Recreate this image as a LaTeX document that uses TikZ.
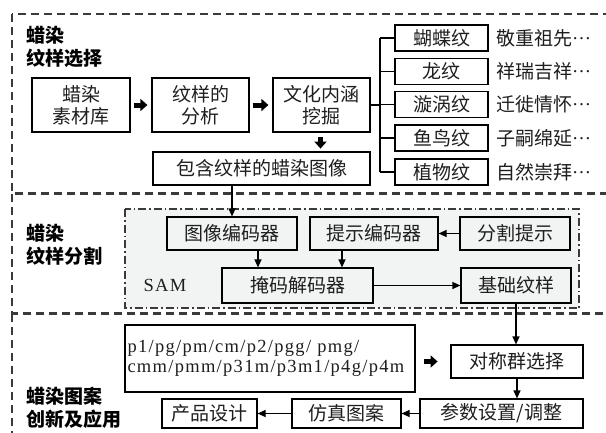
\documentclass[tikz,border=0pt]{standalone}
\usepackage{fontspec}
\setmainfont{Liberation Serif}
\newfontfamily\cjk{Noto Sans CJK SC}
\newfontfamily\lat[LetterSpace=7]{Liberation Serif}
\newfontfamily\ellf{Liberation Serif}
\newcommand{\cdotsx}{\raisebox{0.3em}{\ellf …}}
\usetikzlibrary{arrows.meta,calc}
\definecolor{dashc}{HTML}{3A3A3A}
\definecolor{samfill}{HTML}{F2F3F3}
\definecolor{txt}{HTML}{1E1E1E}
\tikzset{
 box/.style={draw=black, line width=1.2pt, fill=white, inner sep=0pt, align=center, text=txt, font=\cjk\fontsize{19}{22}\selectfont},
 gbox/.style={box, fill=samfill},
 sect/.style={draw=dashc, line width=1.2pt, dash pattern=on 8pt off 5pt},
 samframe/.style={draw=dashc, line width=1.3pt, dash pattern=on 8pt off 3pt on 1.5pt off 3pt, fill=samfill},
 title/.style={font=\cjk\bfseries\fontsize{19}{23}\selectfont, align=left, anchor=west, inner sep=0pt, text=black},
 lbl/.style={font=\cjk\fontsize{19}{22}\selectfont, anchor=west, inner sep=0pt, text=txt},
 latin/.style={font=\lat\fontsize{18.5}{20}\selectfont, text=txt},
 conn/.style={draw=black, line width=1.2pt},
 arr/.style={conn, -{Triangle[length=8pt,width=7pt]}},
 blk/.style={draw=black, line width=5pt, -{Triangle[length=7pt,width=12pt]}},
}
\begin{document}
\begin{tikzpicture}[x=1pt,y=-1pt]
\useasboundingbox (0,0) rectangle (606,432);
\clip (0,0) rectangle (606,432);
\fill[white] (0,0) rectangle (606,432);
% sections
\draw[sect] (12,14) rectangle (620,193);
\draw[sect] (12,194) rectangle (620,313);
\draw[sect] (12,314) rectangle (620,450);
\draw[samframe] (125,209) rectangle (579,308);
% titles
\node[title] (t1) at (26,47) {蜡染\\纹样选择};
\node[title] (t2) at (26,245) {蜡染\\纹样分割};
\node[title] (t3) at (26,408) {蜡染图案\\创新及应用};
% section 1
\node[box, minimum width=98pt, minimum height=54pt] (lib) at (81,105) {蜡染\\素材库};
\node[box, minimum width=97pt, minimum height=54pt] (ana) at (200.5,105) {纹样的\\分析};
\node[box, minimum width=97pt, minimum height=54pt] (cul) at (321.5,105) {文化内涵\\挖掘};
\node[box, minimum width=217pt, minimum height=33pt] (img) at (261.5,168.5) {包含纹样的蜡染图像};
\node[box, minimum width=93pt, minimum height=26pt] (b1) at (441.5,38) {蝴蝶纹};
\node[box, minimum width=93pt, minimum height=26pt] (b2) at (441.5,71.5) {龙纹};
\node[box, minimum width=93pt, minimum height=26pt] (b3) at (441.5,104.5) {漩涡纹};
\node[box, minimum width=93pt, minimum height=26pt] (b4) at (441.5,138) {鱼鸟纹};
\node[box, minimum width=93pt, minimum height=26pt] (b5) at (441.5,172) {植物纹};
\node[lbl] (l1) at (496,38) {敬重祖先\cdotsx};
\node[lbl] (l2) at (496,71.5) {祥瑞吉祥\cdotsx};
\node[lbl] (l3) at (496,104.5) {迁徙情怀\cdotsx};
\node[lbl] (l4) at (496,138) {子嗣绵延\cdotsx};
\node[lbl] (l5) at (496,172) {自然崇拜\cdotsx};
\coordinate (sp) at (380,105);
\draw[conn] (cul.east) -- (sp);
\draw[conn] (sp |- b1.west) -- (sp |- b5.west);
\foreach \b in {b1,b2,b3,b4,b5} \draw[conn] (sp |- \b.west) -- (\b.west);
\draw[blk] ($(lib.east)+(3,0)$) -- ($(ana.west)+(-4,0)$);
\draw[blk] ($(ana.east)+(3,0)$) -- ($(cul.west)+(-4,0)$);
\coordinate (d1) at ($(cul.south)+(-1,4)$);
\coordinate (d2) at ($(d1)+(0,12)$);
\draw[blk] (d1) -- (d2);
% section 2
\node[gbox, minimum width=130pt, minimum height=33pt] (enc) at (232,233.5) {图像编码器};
\node[gbox, minimum width=128pt, minimum height=33pt] (penc) at (374,233.5) {提示编码器};
\node[gbox, minimum width=110pt, minimum height=33pt] (prm) at (515,233.5) {分割提示};
\node[gbox, minimum width=151pt, minimum height=35pt] (dec) at (297.5,285.5) {掩码解码器};
\node[gbox, minimum width=110pt, minimum height=35pt] (base) at (516,285.5) {基础纹样};
\node[latin] (sam) at (165,285) {SAM};
\draw[arr] (enc.north |- img.south) -- (enc.north);
\draw[arr] (prm.west) -- (penc.east);
\coordinate (e1) at ($(enc.south)+(26,0)$);
\draw[arr] (e1) -- (e1 |- dec.north);
\coordinate (e2) at ($(penc.south)+(-32,0)$);
\draw[arr] (e2) -- (e2 |- dec.north);
\draw[arr] (dec.east) -- (base.west);
% section 3
\node[box, minimum height=67pt, text width=285pt, inner xsep=2.5pt, align=left, font=\lat\fontsize{18.5}{20}\selectfont] (grp) at (270,358.5) {p1/pg/pm/cm/p2/pgg/ pmg/\\cmm/pmm/p31m/p3m1/p4g/p4m};
\node[box, minimum width=132pt, minimum height=33pt] (sym) at (517,361.5) {对称群选择};
\node[box, minimum width=163pt, minimum height=29pt] (par) at (501.5,413.5) {参数设置/调整};
\node[box, minimum width=109pt, minimum height=29pt] (sim) at (346.5,413.5) {仿真图案};
\node[box, minimum width=95pt, minimum height=29pt] (prod) at (209.5,413.5) {产品设计};
\draw[arr] (base.south) -- (base.south |- sym.north);
\draw[arr] (sym.south) -- (sym.south |- par.north);
\draw[arr] (par.west) -- (sim.east);
\draw[arr] (sim.west) -- (prod.east);
\coordinate (g1) at ($(grp.east)+(8,3)$);
\coordinate (g2) at ($(g1)+(14,0)$);
\draw[blk] (g1) -- (g2);
\end{tikzpicture}
\end{document}
